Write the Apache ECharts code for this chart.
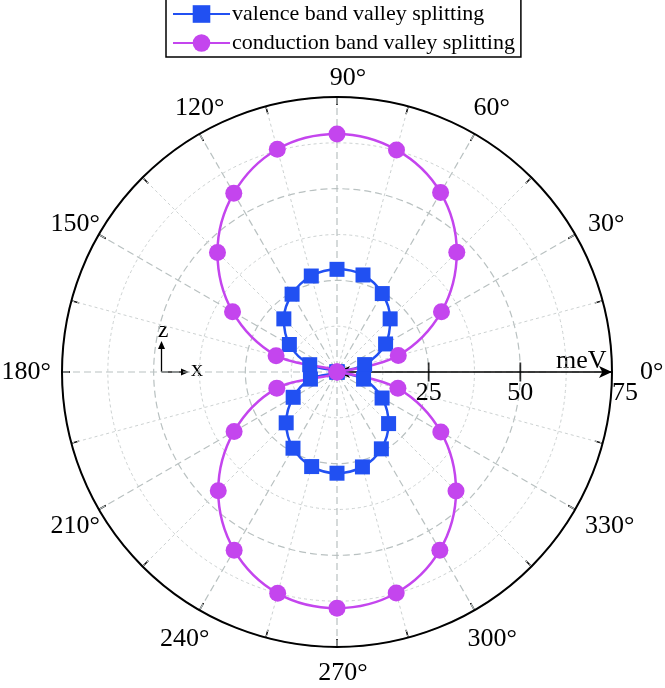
<!DOCTYPE html>
<html>
<head>
<meta charset="utf-8">
<script src="https://cdn.jsdelivr.net/npm/echarts@6/dist/echarts.min.js"></script>
<style>html,body{margin:0;padding:0;background:#fff}#c{width:665px;height:688px}</style>
</head>
<body>
<div id="c"></div>
<script>
var angles = [0,15,30,45,60,75,90,105,120,135,150,165,180,195,210,225,240,255,270,285,300,315,330,345,360];
var valence = [0,7.8,15.3,20.5,24.7,27.4,28.0,27.1,24.5,20.5,15.0,7.7,0,7.5,13.8,19.6,24.0,26.7,27.6,26.8,24.2,19.9,14.2,7.5,0];
var conduction = [0,17.3,32.9,46.2,56.5,62.7,64.9,62.9,56.3,46.1,32.9,17.2,0,17.0,32.4,45.8,56.1,62.5,64.4,62.4,56.1,45.9,32.7,17.2,0];
var angleTickLabels = ['0°','30°','60°','90°','120°','150°','180°','210°','240°','270°','300°','330°'];
var radiusLabels = [25,50,75];
var radiusTicks = [25,50];
var seriesNames = ['valence band valley splitting','conduction band valley splitting'];

var FONT = '"Liberation Serif","Times New Roman",serif';
var BLUE = '#2150F2';
var MAG = '#C445EE';
var GRID = '#b9c1c1';
var GRID2 = '#cdd2d2';

// label nudges (padding: top, right, bottom, left) to mimic the original's placement
var labelPadding = [
  [0, 0, 0, 20], [0, 0, -7, 6], [0, 0, 6, -5], [0, -11, -2, 11],
  [0, -29, 6, 0], [0, -8, -7, 0], [1, 3, -1, 0], [0, -8, 0, 0],
  [9, -14, 0, 0], [5, -6, 0, 6], [9, 0, 0, -11], [0, 0, 0, 3]
];

var chart = echarts.init(document.getElementById('c'));
chart.setOption({
  backgroundColor: '#fff',
  animation: false,
  legend: {
    left: 166, top: -1,
    orient: 'vertical',
    itemWidth: 57, itemHeight: 22, itemGap: 7,
    padding: [4, 6, 3, 6],
    borderColor: '#000', borderWidth: 1.5,
    textStyle: { fontFamily: FONT, fontSize: 22, color: '#000', padding: [0,0,0,-3] },
    data: seriesNames
  },
  polar: [
    { center: [337, 372], radius: 275 },
    { center: [337, 372], radius: 275 }
  ],
  angleAxis: [{
    polarIndex: 0,
    type: 'value', min: 0, max: 360, interval: 30,
    startAngle: 0, clockwise: false,
    axisLine: { lineStyle: { color: '#000', width: 2 } },
    axisTick: { show: true, inside: true, length: 8, lineStyle: { color: '#000', width: 1.5 } },
    minorTick: { show: true, splitNumber: 2, length: 8, lineStyle: { color: '#000', width: 1.5 } },
    axisLabel: { show: false },
    splitLine: { show: true, lineStyle: { color: GRID, type: [7, 4], width: 1.2 } },
    minorSplitLine: { show: true, lineStyle: { color: GRID2, type: [3, 3], width: 1 } }
  }, {
    polarIndex: 1,
    type: 'category', boundaryGap: false, startAngle: 0, clockwise: false,
    data: angleTickLabels.map(function (t, i) {
      return { value: t, textStyle: { padding: labelPadding[i] } };
    }),
    axisLine: { show: false }, axisTick: { show: false }, splitLine: { show: false },
    axisLabel: { show: true, interval: 0, margin: 8, color: '#000', fontFamily: FONT, fontSize: 26 }
  }],
  radiusAxis: [{
    polarIndex: 0,
    type: 'value', min: 0, max: 75, interval: 25,
    axisLine: { show: true, symbol: ['arrow', 'arrow'], symbolSize: [9, 13], lineStyle: { color: '#000', width: 1.5 } },
    axisTick: { show: false },
    axisLabel: {
      margin: -8, verticalAlign: 'top', color: '#000', fontFamily: FONT, fontSize: 26,
      customValues: radiusLabels,
      formatter: function (v) { return v === 75 ? '{r|' + v + '}' : String(v); },
      rich: { r: { fontFamily: FONT, fontSize: 26, color: '#000', padding: [0, 0, 0, 26] } }
    },
    splitLine: { show: true, lineStyle: { color: GRID, type: [7, 4], width: 1.2 } },
    minorTick: { show: false, splitNumber: 2 },
    minorSplitLine: { show: true, lineStyle: { color: GRID2, type: [3, 3], width: 1 } }
  }, {
    polarIndex: 1,
    type: 'value', min: 0, max: 75, interval: 25,
    axisLine: { show: false }, axisTick: { show: false },
    axisLabel: { show: false }, splitLine: { show: false }
  }],
  series: [
    {
      name: seriesNames[0], type: 'line', coordinateSystem: 'polar', polarIndex: 0,
      data: angles.map(function (a, i) { return [valence[i], a]; }),
      smooth: 0.35,
      symbol: 'rect', symbolSize: 15,
      lineStyle: { color: BLUE, width: 2.5 },
      itemStyle: { color: BLUE }
    },
    {
      name: seriesNames[1], type: 'line', coordinateSystem: 'polar', polarIndex: 0,
      data: angles.map(function (a, i) { return [conduction[i], a]; }),
      smooth: 0.35,
      symbol: 'circle', symbolSize: 17,
      lineStyle: { color: MAG, width: 2.5 },
      itemStyle: { color: MAG }
    },
    {
      name: 'radius ticks', type: 'scatter', coordinateSystem: 'polar', polarIndex: 0,
      data: radiusTicks.map(function (r) { return [r, 0]; }),
      symbol: 'rect', symbolSize: [1.8, 19], symbolOffset: [0, 0],
      itemStyle: { color: '#000' }, silent: true, z: 5
    }
  ],
  graphic: [
    { type: 'text', left: 556, top: 348, style: { text: 'meV', fontFamily: FONT, fontSize: 26, fill: '#000' } },
    { type: 'line', shape: { x1: 161.5, y1: 372, x2: 161.5, y2: 346 }, style: { stroke: '#000', lineWidth: 1.3 } },
    { type: 'polygon', shape: { points: [[161.5, 341], [158, 349], [165, 349]] }, style: { fill: '#000' } },
    { type: 'line', shape: { x1: 161.5, y1: 372, x2: 184, y2: 372 }, style: { stroke: '#000', lineWidth: 1.3 } },
    { type: 'polygon', shape: { points: [[189, 372], [181, 368.5], [181, 375.5]] }, style: { fill: '#000' } },
    { type: 'text', x: 163, y: 331, style: { text: 'z', fontFamily: FONT, fontSize: 24, fill: '#000', align: 'center', verticalAlign: 'middle' } },
    { type: 'text', x: 197, y: 370, style: { text: 'x', fontFamily: FONT, fontSize: 24, fill: '#000', align: 'center', verticalAlign: 'middle' } }
  ]
});
</script>
</body>
</html>
